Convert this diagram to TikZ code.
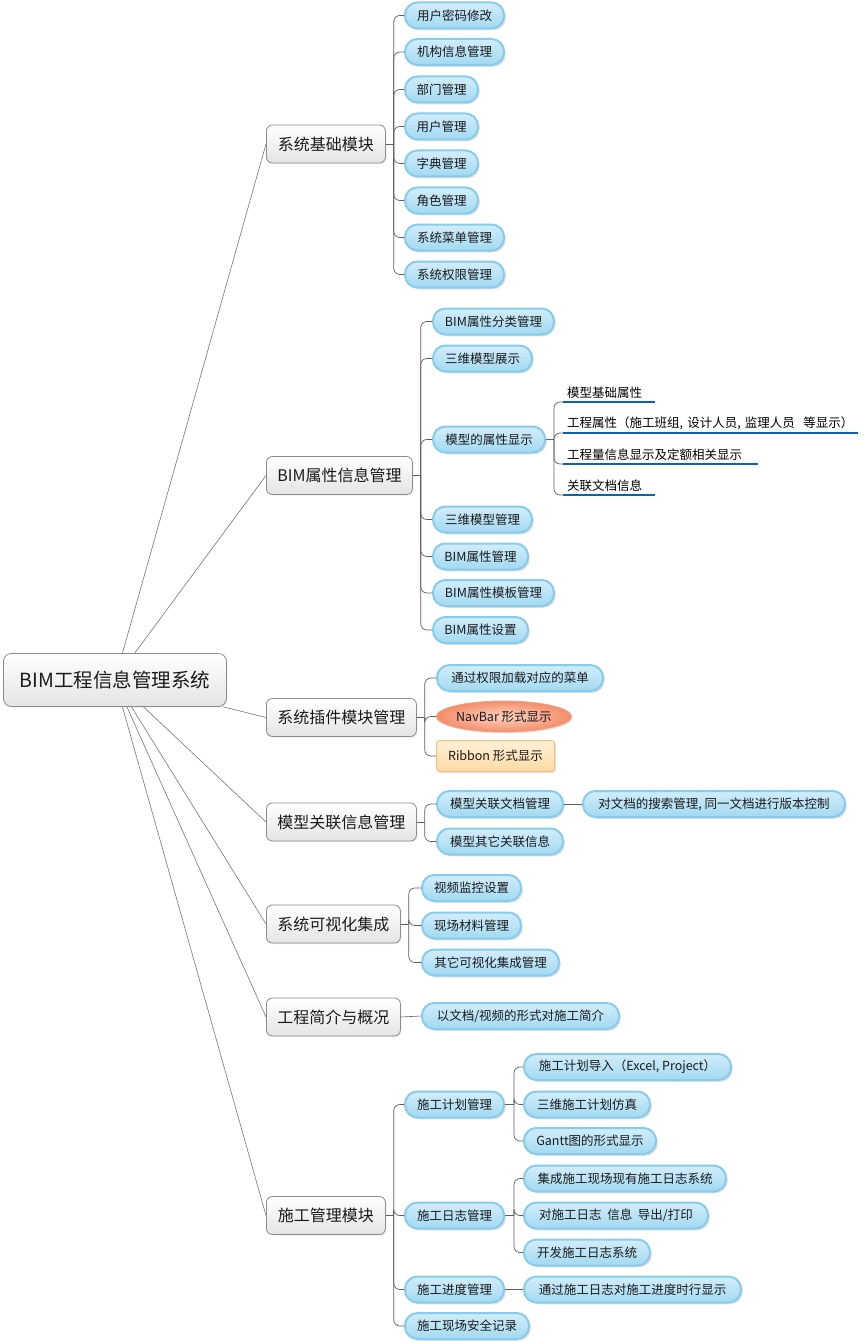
\documentclass[tikz,border=0pt]{standalone}
\usepackage{fontspec}
\setmainfont{Noto Sans CJK SC}
\usetikzlibrary{shadows,shapes.geometric}
\definecolor{pilltop}{HTML}{D2EDFA}
\definecolor{pillbot}{HTML}{A2D9F2}
\definecolor{pillline}{HTML}{86CCEC}
\definecolor{lonebot}{HTML}{E4E4E4}
\definecolor{loneline}{HTML}{8C8C8C}
\definecolor{navin}{HTML}{FDD3C2}
\definecolor{navout}{HTML}{F58D69}
\definecolor{navline}{HTML}{F4A184}
\definecolor{ribtop}{HTML}{FFF1D8}
\definecolor{ribbot}{HTML}{FFDAA4}
\definecolor{ribline}{HTML}{F0C07E}
\definecolor{ulcol}{HTML}{0A62B2}
\definecolor{wire}{HTML}{5E5E5E}
\definecolor{txt}{HTML}{1A1A1A}
\begin{document}
\begin{tikzpicture}[x=1pt,y=-1pt,
  conn/.style={draw=wire!85, line width=0.6pt},
  brk/.style={draw=wire, line width=0.7pt, rounded corners=6pt},
  rootbox/.style={draw=loneline, line width=0.8pt, rounded corners=8pt, top color=white, bottom color=lonebot,
    minimum height=53pt, minimum width=223pt, anchor=west, inner sep=0pt,
    font=\fontsize{19.5}{22}\selectfont, text=txt,
    drop shadow={shadow xshift=1pt, shadow yshift=-1pt, opacity=0.15}},
  lone/.style={draw=loneline, line width=0.8pt, rounded corners=6pt, top color=white, bottom color=lonebot,
    minimum height=38pt, anchor=west, inner sep=0pt,
    font=\fontsize{16}{19}\selectfont, text=txt,
    drop shadow={shadow xshift=1pt, shadow yshift=-1pt, opacity=0.15}},
  pill/.style={draw=pillline, line width=2pt, rounded corners=12.5pt, top color=pilltop, bottom color=pillbot,
    minimum height=26pt, anchor=west, inner sep=0pt,
    font=\fontsize{12.5}{15}\selectfont, text=txt,
    drop shadow={shadow xshift=1.8pt, shadow yshift=-1.8pt, opacity=0.25}},
  navbox/.style={ellipse, draw=navline, line width=0.8pt, inner color=navin, outer color=navout,
    minimum width=119pt, minimum height=31pt, anchor=west, inner sep=0pt,
    font=\fontsize{12.5}{15}\selectfont, text=txt,
    drop shadow={shadow xshift=1.5pt, shadow yshift=-1.5pt, opacity=0.2}},
  ribbox/.style={draw=ribline, line width=1pt, rounded corners=3pt, top color=ribtop, bottom color=ribbot,
    minimum width=118pt, minimum height=31pt, anchor=west, inner sep=0pt,
    font=\fontsize{12.5}{15}\selectfont, text=txt,
    drop shadow={shadow xshift=1.5pt, shadow yshift=-1.5pt, opacity=0.2}},
  ulnode/.style={anchor=south west, inner xsep=4pt, inner ysep=3pt, align=left,
    font=\fontsize{12.5}{15}\selectfont, text=black},
  ulline/.style={draw=ulcol, line width=2.6pt},
]
\useasboundingbox (0,0) rectangle (863,1343);
\fill[white] (0,0) rectangle (863,1343);

% root
\node[rootbox] (root) at (3,680) {BIM工程信息管理系统};

% level 1
\node[lone, minimum width=119pt] (a) at (266,144) {系统基础模块};
\node[lone, minimum width=146pt] (b) at (266,475.5) {BIM属性信息管理};
\node[lone, minimum width=150pt] (c) at (266,717.5) {系统插件模块管理};
\node[lone, minimum width=150pt] (d) at (266,822) {模型关联信息管理};
\node[lone, minimum width=134pt] (e) at (266,924) {系统可视化集成};
\node[lone, minimum width=134pt] (f) at (266,1017) {工程简介与概况};
\node[lone, minimum width=119pt] (g) at (266,1215.5) {施工管理模块};

\foreach \n in {a,b,c,d,e,f,g} \draw[conn] (root) -- (\n.west);

% group a
\node[pill, minimum width=99pt] (a1) at (404,15.5) {用户密码修改};
\node[pill, minimum width=99pt] (a2) at (404,52) {机构信息管理};
\node[pill, minimum width=73pt] (a3) at (404,89.5) {部门管理};
\node[pill, minimum width=73pt] (a4) at (404,126.5) {用户管理};
\node[pill, minimum width=73pt] (a5) at (404,163.5) {字典管理};
\node[pill, minimum width=73pt] (a6) at (404,200.5) {角色管理};
\node[pill, minimum width=99pt] (a7) at (404,237.5) {系统菜单管理};
\node[pill, minimum width=99pt] (a8) at (404,274.5) {系统权限管理};
\path (a.east) ++(8pt,0) coordinate (ja);
\draw[conn, draw=wire] (a.east) -- (ja);
\foreach \n in {a1,a2,a3,a4,a5,a6,a7,a8} \draw[brk] (ja) |- (\n.west);

% group b
\node[pill, minimum width=121pt] (b1) at (432,321.5) {BIM属性分类管理};
\node[pill, minimum width=99pt] (b2) at (432,358.5) {三维模型展示};
\node[pill, minimum width=112pt] (b3) at (432,439.5) {模型的属性显示};
\node[pill, minimum width=99pt] (b4) at (432,519.5) {三维模型管理};
\node[pill, minimum width=95pt] (b5) at (432,556.5) {BIM属性管理};
\node[pill, minimum width=121pt] (b6) at (432,593) {BIM属性模板管理};
\node[pill, minimum width=95pt] (b7) at (432,630) {BIM属性设置};
\path (b.east) ++(8pt,0) coordinate (jb);
\draw[conn, draw=wire] (b.east) -- (jb);
\foreach \n in {b1,b2,b3,b4,b5,b6,b7} \draw[brk] (jb) |- (\n.west);

% level 3 under b3
\node[ulnode, text width=84pt] (u1) at (563,402) {模型基础属性};
\node[ulnode, text width=287pt] (u2) at (563,433) {\mbox{工程属性（施工班组, 设计人员, 监理人员~~等显示）}};
\node[ulnode, text width=187pt] (u3) at (563,464) {工程量信息显示及定额相关显示};
\node[ulnode, text width=84pt] (u4) at (563,495) {关联文档信息};
\path (b3.east) ++(8pt,0) coordinate (jb3);
\draw[conn, draw=wire] (b3.east) -- (jb3);
\foreach \n in {u1,u2,u3,u4} {
  \draw[ulline] (\n.south west) -- (\n.south east);
  \draw[brk] (jb3) |- (\n.south west);
}

% group c
\node[pill, minimum width=166pt] (c1) at (436,678) {通过权限加载对应的菜单};
\node[navbox] (c2) at (436,716.5) {NavBar 形式显示};
\node[ribbox] (c3) at (436,756) {Ribbon 形式显示};
\path (c.east) ++(8pt,0) coordinate (jc);
\draw[conn, draw=wire] (c.east) -- (jc);
\foreach \n in {c1,c2,c3} \draw[brk] (jc) |- (\n.west);

% group d
\node[pill, minimum width=126pt] (d1) at (436,804) {模型关联文档管理};
\node[pill, minimum width=126pt] (d2) at (436,841.5) {模型其它关联信息};
\node[pill, minimum width=262pt] (d1x) at (582,804) {对文档的搜索管理, 同一文档进行版本控制};
\path (d.east) ++(8pt,0) coordinate (jd);
\draw[conn, draw=wire] (d.east) -- (jd);
\foreach \n in {d1,d2} \draw[brk] (jd) |- (\n.west);
\draw[conn, draw=wire] (d1.east) -- (d1x.west);

% group e
\node[pill, minimum width=99pt] (e1) at (421,888) {视频监控设置};
\node[pill, minimum width=99pt] (e2) at (421,925.5) {现场材料管理};
\node[pill, minimum width=137pt] (e3) at (421,962.5) {其它可视化集成管理};
\path (e.east) ++(8pt,0) coordinate (je);
\draw[conn, draw=wire] (e.east) -- (je);
\foreach \n in {e1,e2,e3} \draw[brk] (je) |- (\n.west);

% group f
\node[pill, minimum width=197pt] (f1) at (421,1016) {以文档/视频的形式对施工简介};
\draw[conn, draw=wire] (f.east) -- (f1.west);

% group g
\node[pill, minimum width=99pt] (g1) at (404,1104.5) {施工计划管理};
\node[pill, minimum width=99pt] (g2) at (404,1215.5) {施工日志管理};
\node[pill, minimum width=99pt] (g3) at (404,1289.5) {施工进度管理};
\node[pill, minimum width=124pt] (g4) at (404,1326) {施工现场安全记录};
\path (g.east) ++(8pt,0) coordinate (jg);
\draw[conn, draw=wire] (g.east) -- (jg);
\foreach \n in {g1,g2,g3,g4} \draw[brk] (jg) |- (\n.west);

\node[pill, minimum width=207pt] (g11) at (523,1067) {施工计划导入（Excel, Project）};
\node[pill, minimum width=126pt] (g12) at (523,1104.5) {三维施工计划仿真};
\node[pill, minimum width=132pt] (g13) at (523,1141) {Gantt图的形式显示};
\path (g1.east) ++(9pt,0) coordinate (jg1);
\draw[conn, draw=wire] (g1.east) -- (jg1);
\foreach \n in {g11,g12,g13} \draw[brk] (jg1) |- (\n.west);

\node[pill, minimum width=202pt] (g21) at (523,1178.5) {集成施工现场现有施工日志系统};
\node[pill, minimum width=184pt] (g22) at (523,1215.5) {对施工日志~~信息~~导出/打印};
\node[pill, minimum width=126pt] (g23) at (523,1252.5) {开发施工日志系统};
\path (g2.east) ++(9pt,0) coordinate (jg2);
\draw[conn, draw=wire] (g2.east) -- (jg2);
\foreach \n in {g21,g22,g23} \draw[brk] (jg2) |- (\n.west);

\node[pill, minimum width=217pt] (g31) at (523,1289.5) {通过施工日志对施工进度时行显示};
\draw[conn, draw=wire] (g3.east) -- (g31.west);
\end{tikzpicture}
\end{document}
